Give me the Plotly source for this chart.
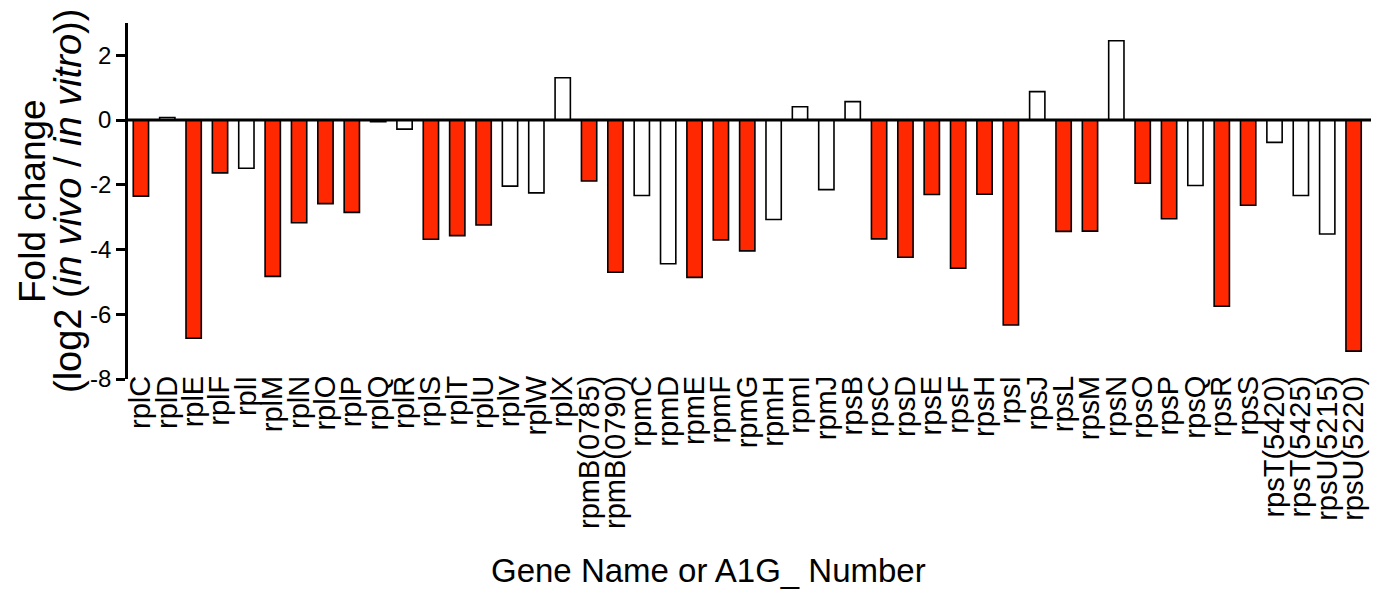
import plotly.graph_objects as go

genes = ["rplC", "rplD", "rplE", "rplF", "rplI", "rplM", "rplN", "rplO", "rplP", "rplQ",
         "rplR", "rplS", "rplT", "rplU", "rplV", "rplW", "rplX", "rpmB(0785)", "rpmB(0790)",
         "rpmC", "rpmD", "rpmE", "rpmF", "rpmG", "rpmH", "rpmI", "rpmJ", "rpsB", "rpsC",
         "rpsD", "rpsE", "rpsF", "rpsH", "rpsI", "rpsJ", "rpsL", "rpsM", "rpsN", "rpsO",
         "rpsP", "rpsQ", "rpsR", "rpsS", "rpsT(5420)", "rpsT(5425)", "rpsU(5215)", "rpsU(5220)"]

fold_change = [-2.35, 0.08, -6.74, -1.63, -1.49, -4.83, -3.17, -2.58, -2.85, -0.05,
               -0.28, -3.68, -3.57, -3.24, -2.04, -2.25, 1.31, -1.88, -4.70,
               -2.33, -4.44, -4.86, -3.70, -4.04, -3.07, 0.41, -2.15, 0.57, -3.67,
               -4.24, -2.30, -4.58, -2.29, -6.33, 0.88, -3.44, -3.43, 2.45, -1.95,
               -3.05, -2.02, -5.75, -2.63, -0.69, -2.33, -3.52, -7.14]

# 1 = highlighted (red), 0 = open (white)
highlighted = [1, 0, 1, 1, 0, 1, 1, 1, 1, 0,
               0, 1, 1, 1, 0, 0, 0, 1, 1,
               0, 0, 1, 1, 1, 0, 0, 0, 0, 1,
               1, 1, 1, 1, 1, 0, 1, 1, 0, 1,
               1, 0, 1, 1, 0, 0, 0, 1]

y_ticks = [-8, -6, -4, -2, 0, 2]

RED = "#FF2800"
FONT = "Liberation Sans, Arial, sans-serif"

colors = [RED if h else "white" for h in highlighted]

fig = go.Figure()
fig.add_trace(go.Bar(
    x=genes, y=fold_change,
    marker=dict(color=colors, line=dict(color="black", width=1.6)),
    width=0.58,
    showlegend=False,
))

fig.add_shape(type="line", xref="paper", yref="y", x0=0, x1=1, y0=0, y1=0,
              line=dict(color="black", width=3), layer="above")

# page is rendered with an 8px body offset; plot area: screen x 128..1371, y 23..379
PL, PW, PB, PH = 128, 1243, 379.3, 356.7

fig.update_layout(
    width=1372, height=588,
    margin=dict(l=120, r=9, t=15, b=217),
    plot_bgcolor="white", paper_bgcolor="white",
    font=dict(family=FONT, color="black"),
    xaxis=dict(
        type="category",
        range=[-0.49, 46.66],
        tickmode="array", tickvals=genes, ticktext=genes,
        showline=False, showgrid=False, zeroline=False,
        ticks="", tickangle=-90, ticklabelstandoff=-10,
        tickfont=dict(size=29, family=FONT, color="black"),
    ),
    yaxis=dict(
        range=[-8, 3],
        tickvals=y_ticks,
        ticktext=[str(v) for v in y_ticks],
        showline=True, linecolor="black", linewidth=2.5,
        ticks="outside", ticklen=9, tickwidth=2.5, tickcolor="black",
        showgrid=False, zeroline=False,
        tickfont=dict(size=24, family=FONT, color="black"),
    ),
)

fig.add_annotation(text="Fold change", xref="paper", yref="paper",
                   x=(32 - PL) / PW, y=0.5, xanchor="center", yanchor="middle",
                   textangle=-90, showarrow=False,
                   font=dict(size=37, family=FONT, color="black"))
fig.add_annotation(text="(log2 (<i>in vivo</i> / <i>in vitro</i>))", xref="paper", yref="paper",
                   x=(68 - PL) / PW, y=0.5, xanchor="center", yanchor="middle",
                   textangle=-90, showarrow=False,
                   font=dict(size=38, family=FONT, color="black"))
fig.add_annotation(text="Gene Name or A1G_ Number", xref="paper", yref="paper",
                   x=(708 - PL) / PW, y=-(571 - PB) / PH,
                   xanchor="center", yanchor="middle", showarrow=False,
                   font=dict(size=33, family=FONT, color="black"))

fig.write_html("out.html")
